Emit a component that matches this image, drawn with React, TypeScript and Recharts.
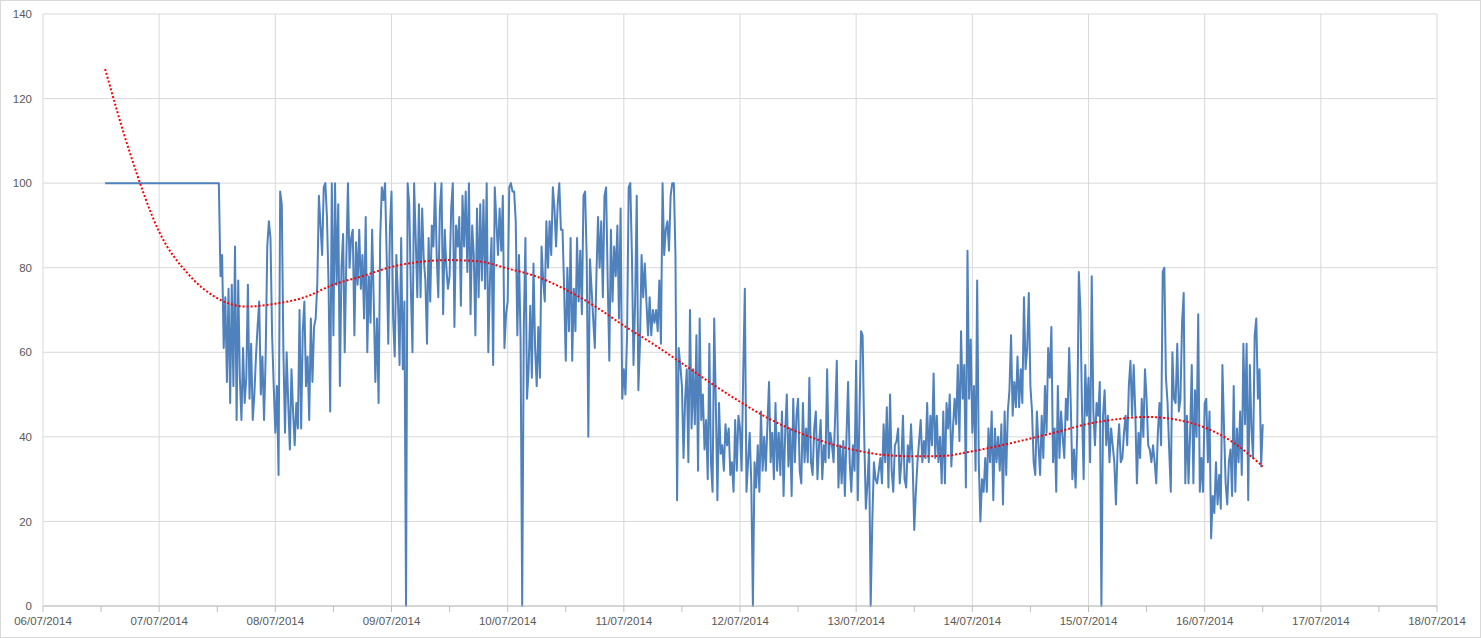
import React from 'react';
import { LineChart, Line, XAxis, YAxis, CartesianGrid } from 'recharts';

// ---- axis labels / ticks ----
const dayLabels = [
  '06/07/2014', '07/07/2014', '08/07/2014', '09/07/2014', '10/07/2014', '11/07/2014', '12/07/2014',
  '13/07/2014', '14/07/2014', '15/07/2014', '16/07/2014', '17/07/2014', '18/07/2014',
];
const xTicks = [0, 12, 24, 36, 48, 60, 72, 84, 96, 108, 120, 132, 144, 156, 168, 180, 192, 204, 216, 228, 240, 252, 264, 276, 288];
const gridDays = [0, 24, 48, 72, 96, 120, 144, 168, 192, 216, 240, 264, 288];
const yTicks = [0, 20, 40, 60, 80, 100, 120, 140];

// ---- measured series (hours since 06/07/2014 00:00) ----
const flatHours = [12.83, 36.33];
const flatValues = [100, 100];
const noiseStartHour = 36 + 2 / 3;
const noiseStepHours = 1 / 3;

const jul07pm = [78, 83, 61, 73, 53, 75, 48, 76, 52, 85, 44, 77, 54, 44, 61, 48, 54, 76, 49, 62, 44, 50, 59, 66, 72, 50, 59, 44, 59, 85, 91, 87, 64, 52];
const jul08am = [41, 52, 31, 98, 95, 60, 41, 60, 48, 37, 56, 46, 38, 48, 42, 70, 42, 65, 72, 52, 59, 44, 68, 53, 66, 68, 76, 97, 90, 83, 99, 100, 92, 76, 46, 100];
const jul08pm = [64, 100, 76, 95, 52, 80, 88, 60, 82, 100, 80, 87, 89, 64, 86, 76, 89, 75, 83, 68, 92, 60, 78, 67, 89, 72, 53, 68, 48, 87, 99, 96, 100, 83, 62, 89];
const jul09am = [98, 68, 59, 83, 73, 57, 87, 56, 72, 0, 100, 95, 75, 60, 100, 87, 73, 95, 73, 94, 82, 77, 62, 87, 72, 90, 85, 100, 83, 73, 94, 100, 69, 89, 80, 75];
const jul09pm = [78, 94, 100, 66, 90, 85, 92, 71, 97, 85, 98, 79, 100, 69, 90, 83, 64, 94, 73, 95, 77, 96, 75, 100, 60, 77, 87, 57, 99, 91, 83, 94, 84, 97, 61, 69];
const jul10am = [72, 99, 100, 98, 98, 91, 64, 83, 63, 0, 66, 87, 49, 56, 71, 54, 81, 61, 52, 66, 54, 85, 77, 72, 91, 80, 91, 83, 99, 94, 85, 95, 100, 89, 89, 75];
const jul10pm = [58, 80, 65, 87, 58, 75, 65, 87, 72, 84, 69, 97, 98, 82, 40, 82, 75, 68, 61, 78, 92, 80, 91, 73, 97, 99, 77, 58, 89, 72, 85, 78, 90, 68, 94, 49];
const jul11am = [56, 50, 64, 99, 100, 83, 57, 72, 97, 51, 62, 83, 73, 81, 72, 64, 73, 64, 70, 67, 70, 65, 77, 62, 100, 83, 89, 91, 84, 97, 100, 100, 83, 25, 61, 57];
const jul11pm = [52, 35, 49, 56, 34, 70, 42, 56, 43, 64, 32, 68, 44, 50, 37, 44, 30, 62, 34, 27, 68, 48, 25, 48, 36, 38, 32, 43, 38, 42, 31, 34, 27, 44, 32, 45];
const jul12am = [42, 32, 55, 75, 27, 34, 41, 29, 0, 34, 28, 38, 27, 46, 32, 40, 32, 43, 53, 34, 41, 30, 48, 32, 41, 31, 46, 26, 41, 50, 33, 42, 26, 49, 34, 45];
const jul12pm = [49, 32, 29, 48, 34, 42, 34, 54, 34, 31, 42, 46, 30, 38, 44, 30, 38, 34, 56, 35, 41, 38, 34, 45, 58, 28, 38, 29, 39, 26, 40, 53, 34, 27, 38, 32];
const jul13am = [58, 25, 44, 65, 64, 40, 23, 29, 37, 0, 20, 34, 30, 29, 32, 35, 29, 43, 34, 47, 28, 50, 32, 27, 38, 39, 42, 29, 34, 45, 30, 28, 38, 34, 43, 34];
const jul13pm = [18, 27, 34, 39, 44, 34, 39, 35, 48, 34, 45, 38, 55, 35, 45, 34, 40, 29, 46, 29, 48, 42, 50, 33, 42, 49, 43, 57, 39, 65, 49, 57, 28, 84, 49, 63];
const jul14am = [41, 52, 32, 77, 34, 20, 30, 27, 35, 27, 42, 34, 46, 25, 42, 34, 40, 32, 43, 24, 46, 31, 46, 51, 64, 45, 53, 47, 59, 47, 56, 48, 73, 56, 61, 74];
const jul14pm = [52, 46, 34, 31, 46, 38, 31, 45, 35, 52, 41, 61, 54, 66, 34, 42, 27, 52, 35, 46, 40, 35, 49, 44, 61, 48, 30, 37, 28, 41, 79, 70, 46, 30, 57, 45];
const jul15am = [54, 34, 78, 46, 38, 48, 45, 53, 0, 45, 51, 38, 45, 34, 42, 38, 34, 24, 37, 43, 34, 35, 41, 45, 38, 52, 58, 45, 57, 46, 29, 41, 35, 49, 40, 56];
const jul15pm = [49, 38, 37, 34, 38, 34, 29, 41, 48, 38, 79, 80, 54, 48, 37, 27, 60, 49, 48, 62, 46, 49, 67, 74, 29, 45, 29, 41, 57, 29, 51, 40, 69, 27, 35, 27];
const jul16am = [48, 49, 34, 46, 16, 26, 22, 34, 24, 31, 23, 57, 42, 29, 24, 34, 37, 26, 52, 27, 42, 34, 46, 31, 62, 43, 62, 25, 57, 42, 35, 64, 68, 49, 56, 33, 43];

// ---- polynomial trend ----
const trendHours = [12.83, 18, 24, 30, 36, 42, 48, 54, 60, 66, 72, 78, 84, 90, 96, 102, 108, 114, 120, 126, 132, 138, 144, 150, 156, 162, 168, 174, 180, 186, 192, 198, 204, 210, 216, 222, 228, 234, 240, 246, 252];
const trendValues = [127, 107, 88.5, 78.5, 72.8, 70.8, 71.5, 73, 76, 78, 80.2, 81.4, 81.8, 81.5, 79.8, 77.9, 74.8, 70.9, 66.3, 62, 57.4, 52.7, 48.3, 44.3, 41.1, 38.6, 36.8, 35.7, 35.4, 35.5, 36.6, 38, 39.6, 41.3, 43.1, 44.2, 44.7, 44.1, 42.2, 38.6, 33];

const noiseValues = [
  ...jul07pm, ...jul08am, ...jul08pm, ...jul09am, ...jul09pm, ...jul10am, ...jul10pm, ...jul11am,
  ...jul11pm, ...jul12am, ...jul12pm, ...jul13am, ...jul13pm, ...jul14am, ...jul14pm, ...jul15am,
  ...jul15pm, ...jul16am,
];

const measured = [
  ...flatHours.map((t, i) => ({ t, v: flatValues[i] })),
  ...noiseValues.map((v, i) => ({ t: noiseStartHour + i * noiseStepHours, v })),
];
const trend = trendHours.map((t, i) => ({ t, v: trendValues[i] }));

const tickStyle = { fill: '#595959', fontSize: 11.5, fontFamily: '"Liberation Sans", Arial, sans-serif' };

export default function App() {
  return (
    <div
      style={{
        position: 'absolute',
        left: 0,
        top: 0,
        width: 1481,
        height: 638,
        boxSizing: 'border-box',
        border: '1px solid #d9d9d9',
        background: '#ffffff',
      }}
    >
      <LineChart width={1479} height={636} margin={{ top: 13, right: 43, bottom: 0, left: 0 }}>
        <CartesianGrid stroke="#d9d9d9" strokeWidth={1} verticalValues={gridDays} />
        <XAxis
          type="number"
          dataKey="t"
          domain={[0, 288]}
          ticks={xTicks}
          interval={0}
          allowDataOverflow
          tickFormatter={(h: number) => (h % 24 === 0 ? dayLabels[h / 24] : '')}
          tick={tickStyle}
          tickLine={{ stroke: '#bfbfbf' }}
          axisLine={{ stroke: '#bfbfbf' }}
          tickSize={6}
          tickMargin={5}
          height={31}
        />
        <YAxis
          type="number"
          domain={[0, 140]}
          ticks={yTicks}
          interval={0}
          tick={tickStyle}
          axisLine={false}
          tickLine={false}
          tickSize={6}
          tickMargin={5}
          width={42}
        />
        <Line
          data={measured}
          dataKey="v"
          type="linear"
          stroke="#4f81bd"
          strokeWidth={2}
          strokeLinejoin="round"
          dot={false}
          activeDot={false}
          isAnimationActive={false}
        />
        <Line
          data={trend}
          dataKey="v"
          type="monotone"
          stroke="#ff0000"
          strokeWidth={2}
          strokeDasharray="2 2"
          dot={false}
          activeDot={false}
          isAnimationActive={false}
        />
      </LineChart>
    </div>
  );
}
